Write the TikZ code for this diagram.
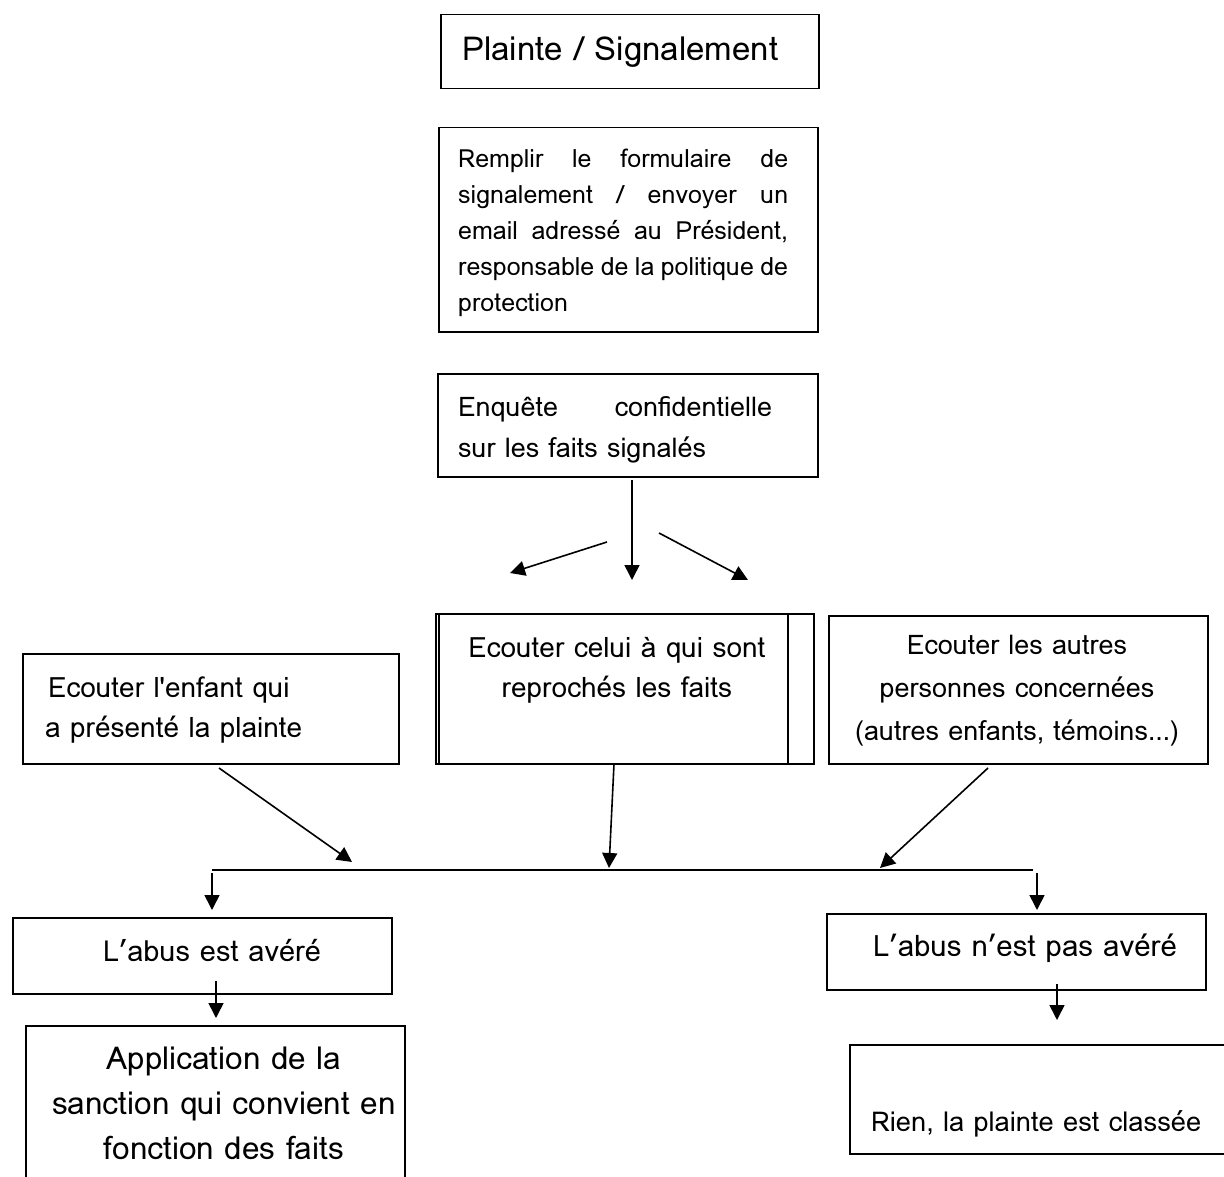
\documentclass[tikz,border=0pt]{standalone}
\usepackage{fontspec}
\setmainfont{Loma}[Ligatures=TeXOff]
\usetikzlibrary{arrows.meta}
\tikzset{
  box/.style={draw, line width=1.5pt, inner sep=0pt, anchor=north west},
  txt/.style={inner sep=0pt},
  arr/.style={line width=1.6pt, -{Triangle[length=15pt,width=15pt]}},
  ln/.style={line width=1.5pt}
}
\newcommand{\fs}{\rule{0pt}{20pt}}
\begin{document}
\begin{tikzpicture}[x=1pt,y=-1pt]
\useasboundingbox (0,0) rectangle (1224,1177);
% boxes
\node[box, minimum width=378pt, minimum height=74pt] (b1) at (440,14) {};
\node[box, minimum width=379pt, minimum height=204pt] (b2) at (438,127) {};
\node[box, minimum width=380pt, minimum height=103pt] (b3) at (437,373) {};
\node[box, minimum width=378pt, minimum height=150pt] (bmo) at (435,613) {};
\node[box, minimum width=349pt, minimum height=150pt] (bm) at (438,613) {};
\node[box, minimum width=376pt, minimum height=110pt] (bl) at (22,653) {};
\node[box, minimum width=379pt, minimum height=148pt] (br) at (828,615) {};
\node[box, minimum width=379pt, minimum height=76pt] (ba) at (12,917) {};
\node[box, minimum width=379pt, minimum height=76pt] (bn) at (826,913) {};
\node[box, minimum width=379pt, minimum height=170pt] (bapp) at (25,1025) {};
\node[box, minimum width=390pt, minimum height=109pt] (bri) at (849,1044) {};
% texts
\node[txt, anchor=base west, font=\fontsize{33}{36}\selectfont] (t1) at (462,61) {Plainte / Signalement};
\node[txt, anchor=north west, align=left, font=\fontsize{25}{36}\selectfont] (t2) at (458,147) {\fs\makebox[330pt][s]{Remplir le formulaire de}\\
\makebox[330pt][s]{signalement / envoyer un}\\
\makebox[330pt][s]{email adressé au Président,}\\
\makebox[330pt][s]{responsable de la politique de}\\
protection};
\node[txt, anchor=north west, align=left, font=\fontsize{27}{41}\selectfont] (t3) at (458,396) {\fs\makebox[314pt][s]{Enquête confidentielle}\\ sur les faits signalés};
\node[txt, anchor=north, align=center, font=\fontsize{28}{40}\selectfont] (tm) at (617,637) {\fs Ecouter celui à qui sont\\ reprochés les faits};
\node[txt, anchor=north west, align=left, font=\fontsize{28}{40}\selectfont] (tl) at (45,677) {\fs\hspace{3pt}Ecouter l'enfant qui\\ a présenté la plainte};
\node[txt, anchor=north, align=center, font=\fontsize{27}{43}\selectfont] (tr) at (1017,634) {\fs Ecouter les autres\\ personnes concernées\\ (autres enfants, témoins…)};
\node[txt, anchor=base, font=\fontsize{29}{36}\selectfont] (ta) at (212,961) {L’abus est avéré};
\node[txt, anchor=base, font=\fontsize{29.5}{36}\selectfont] (tn) at (1025,956) {L’abus n’est pas avéré};
\node[txt, anchor=north, align=center, font=\fontsize{31.5}{45}\selectfont] (tapp) at (224,1047) {\fs Application de la\\ sanction qui convient en\\ fonction des faits};
\node[txt, anchor=base west, font=\fontsize{27.3}{36}\selectfont] (tri) at (871,1131) {Rien, la plainte est classée};
% coordinates
\coordinate (c3) at (632,480);
\coordinate (c3e) at (632,580);
\coordinate (l1s) at (607,542);
\coordinate (l1e) at (510,573);
\coordinate (r1s) at (659,533);
\coordinate (r1e) at (748,580);
\coordinate (bls) at (219,768);
\coordinate (ble) at (352,862);
\coordinate (bms) at (614,764);
\coordinate (bme) at (609,868);
\coordinate (brs) at (988,768);
\coordinate (bre) at (880,868);
\coordinate (busL) at (212,870);
\coordinate (busR) at (1033,870);
\coordinate (dL) at (212,873);
\coordinate (dLe) at (212,910);
\coordinate (dR) at (1037,873);
\coordinate (dRe) at (1037,910);
\coordinate (aS) at (216,981);
\coordinate (aE) at (216,1018);
\coordinate (nS) at (1057,984);
\coordinate (nE) at (1057,1020);
% connectors
\draw[arr] (c3) -- (c3e);
\draw[arr] (l1s) -- (l1e);
\draw[arr] (r1s) -- (r1e);
\draw[arr] (bls) -- (ble);
\draw[arr] (bms) -- (bme);
\draw[arr] (brs) -- (bre);
\draw[ln] (busL) -- (busR);
\draw[arr] (dL) -- (dLe);
\draw[arr] (dR) -- (dRe);
\draw[arr] (aS) -- (aE);
\draw[arr] (nS) -- (nE);
\end{tikzpicture}
\end{document}
